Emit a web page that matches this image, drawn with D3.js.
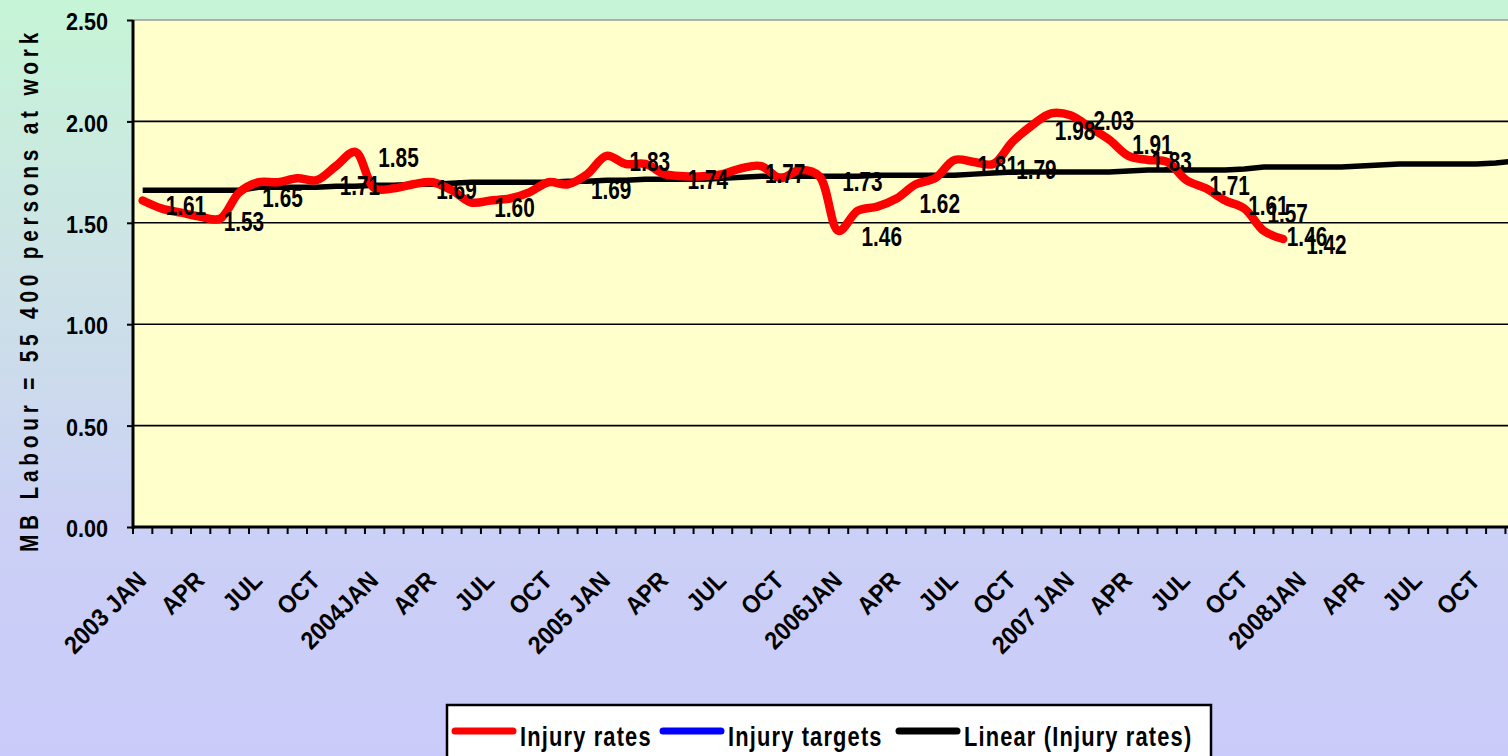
<!DOCTYPE html>
<html>
<head>
<meta charset="utf-8">
<script src="https://cdn.jsdelivr.net/npm/d3@7"></script>
<style>
body { margin: 0; overflow: hidden; }
text { font-family: "Liberation Sans", Arial, sans-serif; font-weight: bold; fill: #000; }
</style>
</head>
<body>
<svg id="chart" width="1508" height="756"></svg>
<script>
// values
var years = ["2003", "2004", "2005", "2006", "2007", "2008"];
var months = ["JAN", "FEB", "MAR", "APR", "MAY", "JUN", "JUL", "AUG", "SEP", "OCT", "NOV", "DEC"];
var tickLabels = ["2003 JAN", "APR", "JUL", "OCT", "2004JAN", "APR", "JUL", "OCT",
    "2005 JAN", "APR", "JUL", "OCT", "2006JAN", "APR", "JUL", "OCT",
    "2007 JAN", "APR", "JUL", "OCT", "2008JAN", "APR", "JUL", "OCT"];
var yTicks = [0, 0.5, 1, 1.5, 2, 2.5];

var injuryRates = [1.61, 1.57, 1.55, 1.53, 1.52, 1.65, 1.70, 1.70, 1.72, 1.71, 1.78, 1.85,
    1.67, 1.67, 1.69, 1.70, 1.66, 1.60, 1.61, 1.62, 1.65, 1.70, 1.69, 1.74,
    1.83, 1.79, 1.79, 1.74, 1.73, 1.73, 1.74, 1.77, 1.78, 1.72, 1.76, 1.73,
    1.46, 1.56, 1.58, 1.62, 1.69, 1.72, 1.81, 1.80, 1.79, 1.90, 1.98, 2.04,
    2.03, 1.97, 1.91, 1.83, 1.81, 1.80, 1.71, 1.67, 1.61, 1.57, 1.46, 1.42];
var injuryTargets = [];
var linearTrend = [1.66, 1.66, 1.66, 1.66, 1.66, 1.66, 1.675, 1.675, 1.675, 1.675, 1.68, 1.68,
    1.685, 1.685, 1.69, 1.69, 1.695, 1.70, 1.70, 1.70, 1.70, 1.70, 1.705, 1.705,
    1.71, 1.71, 1.715, 1.715, 1.715, 1.715, 1.72, 1.725, 1.73, 1.73, 1.73, 1.73,
    1.73, 1.73, 1.735, 1.735, 1.735, 1.735, 1.735, 1.74, 1.745, 1.75, 1.75, 1.75,
    1.75, 1.75, 1.75, 1.755, 1.76, 1.76, 1.76, 1.76, 1.76, 1.765, 1.775, 1.775,
    1.775, 1.775, 1.775, 1.78, 1.785, 1.79, 1.79, 1.79, 1.79, 1.79, 1.795, 1.805];
var labelledPoints = [0, 3, 5, 9, 11, 14, 17, 22, 24, 27, 31, 35, 36, 39, 42, 44, 46, 48, 50, 51, 54, 56, 57, 58, 59];

var categories = [];
years.forEach(function (y) { months.forEach(function (m) { categories.push(y + "-" + m); }); });

var svg = d3.select("#chart");
var W = 1508, H = 756;
var plot = { left: 133, top: 20, bottom: 527, right: W };

// background
var defs = svg.append("defs");
var grad = defs.append("linearGradient").attr("id", "bg").attr("x1", 0).attr("y1", 0).attr("x2", 0).attr("y2", 1);
grad.append("stop").attr("offset", "0%").attr("stop-color", "#c6f5d6");
grad.append("stop").attr("offset", "35%").attr("stop-color", "#cde3e6");
grad.append("stop").attr("offset", "70%").attr("stop-color", "#cbd0f5");
grad.append("stop").attr("offset", "100%").attr("stop-color", "#cacbfa");
svg.append("rect").attr("width", W).attr("height", H).attr("fill", "url(#bg)");

var x = d3.scaleBand().domain(categories).range([plot.left, plot.left + 72 * 19.33]);
var bw = x.bandwidth();
var cx = function (i) { return x(categories[i]) + bw / 2; };
var y = d3.scaleLinear().domain([0, 2.5]).range([plot.bottom, plot.top]);

svg.append("rect").attr("x", plot.left).attr("y", plot.top)
    .attr("width", plot.right - plot.left).attr("height", plot.bottom - plot.top)
    .attr("fill", "#ffffcc");

// gridlines
svg.append("g").selectAll("line").data(yTicks.slice(1)).enter().append("line")
    .attr("x1", plot.left).attr("x2", plot.right)
    .attr("y1", function (d) { return y(d); }).attr("y2", function (d) { return y(d); })
    .attr("stroke", function (d) { return d === 2.5 ? "#999" : "#000"; })
    .attr("stroke-width", 1.6);

// y axis
var yAxis = svg.append("g").attr("transform", "translate(" + plot.left + ",0)")
    .call(d3.axisLeft(y).tickValues(yTicks).tickFormat(d3.format(".2f")).tickSize(6));
yAxis.select(".domain").remove();
yAxis.selectAll(".tick line").attr("stroke-width", 2);
yAxis.selectAll("text").attr("x", null).attr("dy", "0.36em")
    .attr("transform", "translate(-25,1) scale(0.9,1)")
    .style("font-size", "24px").style("font-family", null);
svg.append("line").attr("x1", plot.left).attr("x2", plot.left)
    .attr("y1", plot.top).attr("y2", plot.bottom + 2).attr("stroke", "#000").attr("stroke-width", 3);

// x axis: month ticks at band edges, labels every quarter
var xTicks = svg.append("g");
xTicks.selectAll("line").data(categories).enter().append("line")
    .attr("x1", function (d) { return x(d); }).attr("x2", function (d) { return x(d); })
    .attr("y1", plot.bottom).attr("y2", plot.bottom + 7)
    .attr("stroke", "#000").attr("stroke-width", 2);
var quarterCats = categories.filter(function (d, i) { return i % 3 === 0; });
var xAxis = svg.append("g").attr("transform", "translate(0," + plot.bottom + ")")
    .call(d3.axisBottom(x).tickValues(quarterCats).tickSize(0)
        .tickFormat(function (d, i) { return tickLabels[i]; }));
xAxis.select(".domain").remove();
xAxis.selectAll("text").attr("y", null).attr("dy", null)
    .attr("text-anchor", "end")
    .attr("transform", "translate(5,55) rotate(-45) scale(0.92,1)")
    .style("font-size", "25px").style("font-family", null);
svg.append("line").attr("x1", plot.left).attr("x2", plot.right)
    .attr("y1", plot.bottom).attr("y2", plot.bottom).attr("stroke", "#000").attr("stroke-width", 3);

// y title
svg.append("text")
    .attr("transform", "translate(38,290) rotate(-90) scale(0.8,1)")
    .attr("text-anchor", "middle")
    .style("font-size", "26px").style("letter-spacing", "6px")
    .text("MB Labour = 55  400 persons at work");

// series
var trendLine = d3.line().x(function (d, i) { return cx(i); }).y(function (d) { return y(d); });
svg.append("path").datum(linearTrend).attr("d", trendLine)
    .attr("fill", "none").attr("stroke", "#000").attr("stroke-width", 5.5);

var rateLine = d3.line().curve(d3.curveCatmullRom.alpha(0.5))
    .x(function (d, i) { return cx(i); }).y(function (d) { return y(d); });
svg.append("path").datum(injuryRates).attr("d", rateLine)
    .attr("fill", "none").attr("stroke", "#ff0000").attr("stroke-width", 8.5)
    .attr("stroke-linejoin", "round").attr("stroke-linecap", "round");

// data labels, right of point
svg.append("g").selectAll("text").data(labelledPoints).enter().append("text")
    .attr("transform", function (i) {
        return "translate(" + (cx(i) + 23) + "," + (y(injuryRates[i]) + 5) + ") scale(0.77,1)";
    })
    .attr("dy", "0.36em")
    .style("font-size", "27px")
    .text(function (i) { return injuryRates[i].toFixed(2); });

// legend
var legend = svg.append("g");
legend.append("rect").attr("x", 447).attr("y", 705).attr("width", 764).attr("height", 70)
    .attr("fill", "#fff").attr("stroke", "#000").attr("stroke-width", 2.5);
var legendItems = [
    { name: "Injury rates", color: "#ff0000", x: 452 },
    { name: "Injury targets", color: "#0000ff", x: 660 },
    { name: "Linear (Injury rates)", color: "#000", x: 896 }
];
legendItems.forEach(function (d) {
    legend.append("line").attr("x1", d.x + 3).attr("x2", d.x + 61).attr("y1", 731).attr("y2", 731)
        .attr("stroke", d.color).attr("stroke-width", 7).attr("stroke-linecap", "round");
    legend.append("text").attr("transform", "translate(" + (d.x + 68) + ",746) scale(0.78,1)")
        .style("font-size", "28px").style("letter-spacing", "1.5px")
        .text(d.name);
});
</script>
</body>
</html>
